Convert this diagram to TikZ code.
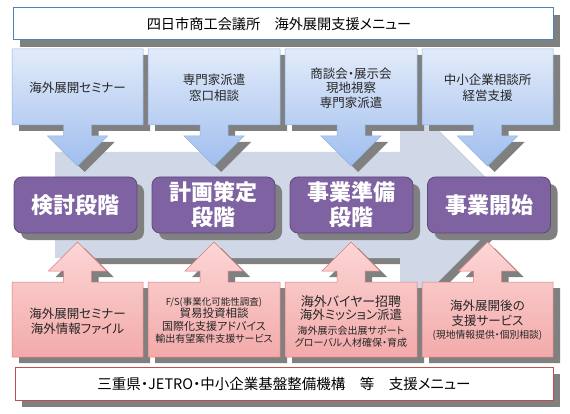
\documentclass[tikz,border=0pt]{standalone}
\usepackage{fontspec}
\newfontfamily\jp[RawFeature=+palt]{Noto Sans CJK JP}
\usetikzlibrary{shadows}
\definecolor{shadowgray}{RGB}{128,128,128}
\definecolor{bigarrow}{RGB}{208,216,231}
\definecolor{bluetop}{RGB}{226,235,250}
\definecolor{bluebot}{RGB}{160,190,238}
\definecolor{blueline}{RGB}{141,179,226}
\definecolor{pinktop}{RGB}{252,214,214}
\definecolor{pinkbot}{RGB}{243,170,170}
\definecolor{pinkline}{RGB}{224,121,122}
\definecolor{purplefill}{RGB}{126,98,161}
\definecolor{purpleline}{RGB}{95,73,122}
\definecolor{hdrblue}{RGB}{79,129,189}
\definecolor{hdrred}{RGB}{192,80,77}
\definecolor{txt}{RGB}{38,38,38}
\newcommand\nolsl{\lineskiplimit=-20pt\relax}
\tikzset{
  shad/.style={drop shadow={shadow xshift=7pt,shadow yshift=-7pt,fill=shadowgray,opacity=1}},
  hdr/.style={draw=#1,line width=1pt,fill=white,shad,minimum width=540pt,minimum height=32pt,inner sep=0pt},
  stage/.style={rounded corners=8pt,draw=purpleline,line width=0.8pt,fill=purplefill,shad,
    minimum width=123pt,minimum height=56pt,inner sep=0pt,text=white,align=center,
    font=\jp\bfseries\fontsize{22}{25}\selectfont},
  bluecall/.style={draw=blueline,line width=0.5pt,top color=bluetop,bottom color=bluebot},
  pinkcall/.style={draw=pinkline,line width=0.5pt,top color=pinktop,bottom color=pinkbot},
  lbl/.style={text=txt,align=center,inner sep=0pt},
  multi/.style={lbl,font={\jp\fontsize{10}{12}\selectfont\nolsl}},
}
\begin{document}
\begin{tikzpicture}[x=1pt,y=-1pt]
\useasboundingbox (0,0) rectangle (570,414);
% top header
\node[hdr=hdrblue] (top) at (283,24) {};
\node[lbl,text=black,font=\jp\fontsize{14.2}{16}\selectfont] (toptext) at (279,24) {四日市商工会議所　海外展開支援メニュー};
% big background arrow
\fill[shadowgray] (61,158) -- (406,158) -- (406,98) -- (520,212) -- (406,326) -- (406,264) -- (61,264) -- cycle;
\fill[bigarrow] (55,152) -- (400,152) -- (400,92) -- (514,206) -- (400,320) -- (400,258) -- (55,258) -- cycle;
% blue callouts (down)
\foreach \L/\R in {12/143,148/280,285/417,422/553}{
  \pgfmathsetmacro\c{(\L+\R)/2}
  \fill[shadowgray,shift={(7,6)}] (\L,49) -- (\R,49) -- (\R,125) -- (\c+14,125) -- (\c+14,136) -- (\c+30,136) -- (\c,166) -- (\c-30,136) -- (\c-14,136) -- (\c-14,125) -- (\L,125) -- cycle;
}
\foreach \L/\R in {12/143,148/280,285/417,422/553}{
  \pgfmathsetmacro\c{(\L+\R)/2}
  \path[bluecall] (\L,49) -- (\R,49) -- (\R,125) -- (\c+14,125) -- (\c+14,136) -- (\c+30,136) -- (\c,166) -- (\c-30,136) -- (\c-14,136) -- (\c-14,125) -- (\L,125) -- cycle;
}
\node[lbl,font=\jp\fontsize{12.5}{15}\selectfont] (b1) at (77.5,88) {海外展開セミナー};
\node[lbl,font=\jp\fontsize{12.5}{16}\selectfont] (b2) at (214,88) {専門家派遣\\窓口相談};
\node[lbl,font=\jp\fontsize{12.5}{14.5}\selectfont] (b3) at (351,88) {商談会・展示会\\現地視察\\専門家派遣};
\node[lbl,font=\jp\fontsize{12.5}{16.5}\selectfont] (b4) at (487.5,88) {中小企業相談所\\経営支援};
% stages
\node[stage] (p1) at (75.5,205) {検討段階};
\node[stage] (p2) at (213.5,205) {計画策定\\段階};
\node[stage] (p3) at (351.5,205) {事業準備\\段階};
\node[stage] (p4) at (489,205) {事業開始};
% pink callouts (up)
\foreach \L/\R in {12/143,148/280,285/417,422/553}{
  \pgfmathsetmacro\c{(\L+\R)/2}
  \fill[shadowgray,shift={(7,6)}] (\L,357) -- (\R,357) -- (\R,282) -- (\c+14,282) -- (\c+14,271) -- (\c+29,271) -- (\c,242) -- (\c-29,271) -- (\c-14,271) -- (\c-14,282) -- (\L,282) -- cycle;
}
\foreach \L/\R in {12/143,148/280,285/417,422/553}{
  \pgfmathsetmacro\c{(\L+\R)/2}
  \path[pinkcall] (\L,357) -- (\R,357) -- (\R,282) -- (\c+14,282) -- (\c+14,271) -- (\c+29,271) -- (\c,242) -- (\c-29,271) -- (\c-14,271) -- (\c-14,282) -- (\L,282) -- cycle;
}
\node[lbl,font=\jp\fontsize{12.5}{15}\selectfont] (q1) at (77.5,321) {海外展開セミナー\\海外情報ファイル};
\node[multi] (q2) at (214,320.5) {{\fontsize{9.5}{11}\selectfont F/S(事業化可能性調査)}\\[0pt]{\fontsize{11.5}{13}\selectfont 貿易投資相談}\\[1pt]{\fontsize{11}{12.5}\selectfont 国際化支援アドバイス}\\[0pt]{\fontsize{10}{11.5}\selectfont 輸出有望案件支援サービス}};
\node[multi] (q3) at (351,321.5) {{\fontsize{13}{14}\selectfont 海外バイヤー招聘}\\[1.5pt]{\fontsize{12.5}{14}\selectfont 海外ミッション派遣}\\[3pt]{\fontsize{10}{12}\selectfont 海外展示会出展サポート}\\[0pt]{\fontsize{10}{12}\selectfont グローバル人材確保・育成}};
\node[multi] (q4) at (487.5,320) {{\fontsize{12.5}{15}\selectfont 海外展開後の}\\[3pt]{\fontsize{12.5}{14}\selectfont 支援サービス}\\[0.5pt]{\fontsize{9.8}{11}\selectfont (現地情報提供・個別相談)}};
% bottom header
\node[hdr=hdrred,minimum width=538pt,minimum height=33pt] (bot) at (284,383.5) {};
\node[lbl,text=black,font=\jp\fontsize{14.5}{16}\selectfont] (bottext) at (284,383.5) {三重県・JETRO・中小企業基盤整備機構　等　支援メニュー};
\end{tikzpicture}
\end{document}
